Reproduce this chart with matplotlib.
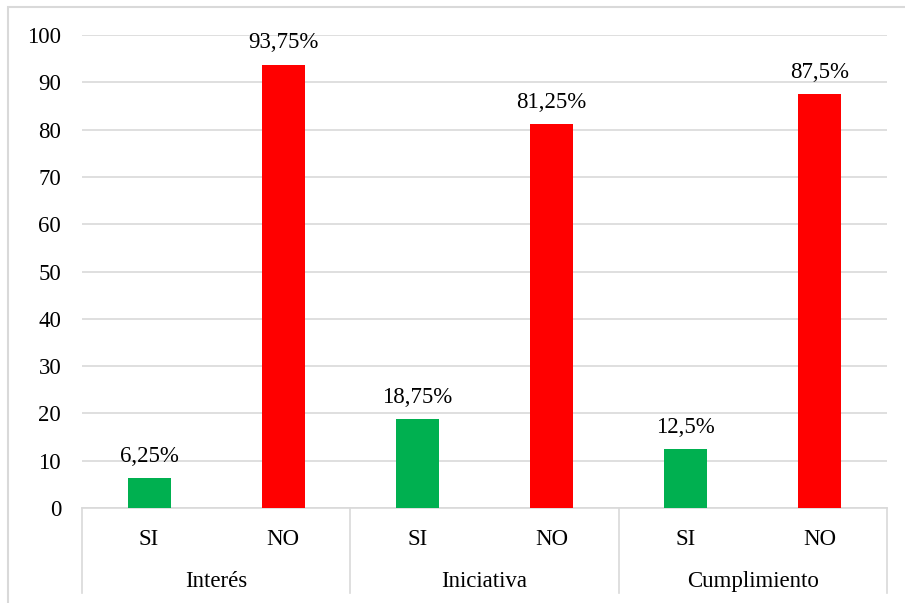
import matplotlib
matplotlib.use("Agg")
import matplotlib.pyplot as plt
from matplotlib.patches import Rectangle
from matplotlib.lines import Line2D

# Respuestas por dimension (porcentaje)
groups = ["Interés", "Iniciativa", "Cumplimiento"]
answers = ["SI", "NO"]
si_values = [6.25, 18.75, 12.5]
no_values = [93.75, 81.25, 87.5]
si_labels = ["6,25%", "18,75%", "12,5%"]
no_labels = ["93,75%", "81,25%", "87,5%"]

plt.rcParams["font.family"] = ["Liberation Serif", "DejaVu Serif"]
FS = 16.5
GRID = "#D9D9D9"

fig = plt.figure(figsize=(9.05, 6.03), dpi=100)
ax = fig.add_axes([82 / 905, 1 - 508 / 603, 805 / 905, 473 / 603])

width = 0.32
for i in range(len(groups)):
    x_si = 2 * i + 0.5
    x_no = 2 * i + 1.5
    ax.bar(x_si, si_values[i], width=width, color="#00B050", zorder=3)
    ax.bar(x_no, no_values[i], width=width, color="#FF0000", zorder=3)
    ax.annotate(si_labels[i], (x_si, si_values[i]), xytext=(0, 8),
                textcoords="offset points", ha="center", va="bottom", fontsize=FS)
    ax.annotate(no_labels[i], (x_no, no_values[i]), xytext=(0, 8),
                textcoords="offset points", ha="center", va="bottom", fontsize=FS)

ax.set_xlim(0, 6)
ax.set_ylim(0, 100)
ax.set_yticks(range(0, 101, 10))
ax.tick_params(axis="y", length=0, pad=15, labelsize=FS)
ax.set_xticks([])
ax.grid(axis="y", color=GRID, linewidth=1.2, zorder=0)
for side in ["top", "right", "left"]:
    ax.spines[side].set_visible(False)
ax.spines["bottom"].set_color(GRID)
ax.spines["bottom"].set_linewidth(1.2)

# etiquetas de categoria en dos niveles
trans = ax.get_xaxis_transform()
for i, g in enumerate(groups):
    for j, a in enumerate(answers):
        ax.text(2 * i + j + 0.5, -0.067, a, transform=trans, ha="center",
                va="center", fontsize=FS)
    ax.text(2 * i + 1, -0.155, g, transform=trans, ha="center", va="center",
            fontsize=FS)
for xs in range(0, 7, 2):
    ax.add_line(Line2D([xs, xs], [0, -0.18], transform=trans, color=GRID,
                       linewidth=1.2, clip_on=False))

# borde exterior del grafico
fig.patches.append(Rectangle((7.5 / 905, -0.01), 1.0, 1.01 - 6.5 / 603,
                             transform=fig.transFigure, fill=False,
                             edgecolor=GRID, linewidth=1.5))

fig.savefig("out.png", dpi=100)
